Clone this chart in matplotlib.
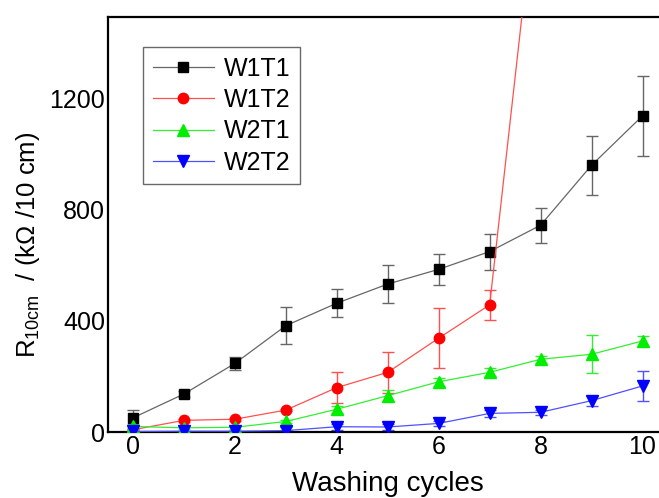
import matplotlib
matplotlib.use("Agg")
import matplotlib.pyplot as plt

plt.rcParams['font.family'] = ['Liberation Sans', 'DejaVu Sans']
plt.rcParams['mathtext.fontset'] = 'custom'
plt.rcParams['mathtext.rm'] = 'Liberation Sans'
plt.rcParams['mathtext.it'] = 'Liberation Sans'

cycles = [0, 1, 2, 3, 4, 5, 6, 7, 8, 9, 10]
w1t1 = [51, 137, 247, 383, 464, 533, 586, 650, 745, 961, 1139]
w1t1_err = [30, 10, 22, 67, 50, 70, 55, 65, 63, 107, 145]
cycles_w1t2 = [0, 1, 2, 3, 4, 5, 6, 7, 8]
w1t2 = [8, 42, 46, 79, 160, 215, 338, 458, 2100]
w1t2_err = [5, 5, 5, 5, 55, 74, 108, 55, 0]
w2t1 = [20, 15, 17, 38, 82, 131, 181, 215, 262, 280, 328]
w2t1_err = [10, 5, 5, 5, 12, 20, 15, 15, 12, 68, 18]
w2t2 = [2, 3, 3, 5, 19, 18, 31, 67, 71, 113, 166]
w2t2_err = [2, 2, 2, 2, 10, 10, 10, 12, 10, 18, 55]

fig = plt.figure(figsize=(6.59, 4.98), dpi=100)
ax = fig.add_axes([108/659, 1-432/498, (668-108)/659, (432-17)/498])

series = [
    (cycles, w1t1, w1t1_err, 'W1T1', 's', 'black', '#666666', 7),
    (cycles_w1t2, w1t2, w1t2_err, 'W1T2', 'o', '#ff0000', '#ff5050', 7.5),
    (cycles, w2t1, w2t1_err, 'W2T1', '^', '#00ee00', '#33ee33', 8),
    (cycles, w2t2, w2t2_err, 'W2T2', 'v', '#0000ff', '#5050ff', 8),
]
for xs, ys, es, lab, mk, mc, lc, ms in series:
    ax.errorbar(xs, ys, yerr=es, fmt='none', ecolor=lc, elinewidth=1.0,
                capsize=4, capthick=1.0, zorder=2)
    ax.plot(xs, ys, color=lc, lw=0.9, marker=mk, markersize=ms,
            markerfacecolor=mc, markeredgecolor=mc, label=lab, zorder=3)

ax.set_xlim(-0.49, 10.5)
ax.set_ylim(0, 1495)
ax.set_xticks([0, 2, 4, 6, 8, 10])
ax.set_yticks([0, 400, 800, 1200])
ax.tick_params(length=0, labelsize=18, pad=2)
for s in ax.spines.values():
    s.set_linewidth(1.6)

ax.set_xlabel('Washing cycles', fontsize=20, labelpad=9)
ax.set_ylabel(r'R$_{\mathregular{10cm}}$  / (k$\Omega$ /10 cm)', fontsize=18.5)
ax.yaxis.set_label_coords(-0.118, 0.45)

leg = ax.legend(loc='upper left', bbox_to_anchor=(35/560, 1 - 30/415),
                fontsize=18, frameon=True, fancybox=False, edgecolor='#444444',
                handlelength=2.45, handletextpad=0.4, labelspacing=0.3,
                borderpad=0.38, borderaxespad=0)
leg.get_frame().set_linewidth(1.0)

fig.savefig('out.png', dpi=100)
